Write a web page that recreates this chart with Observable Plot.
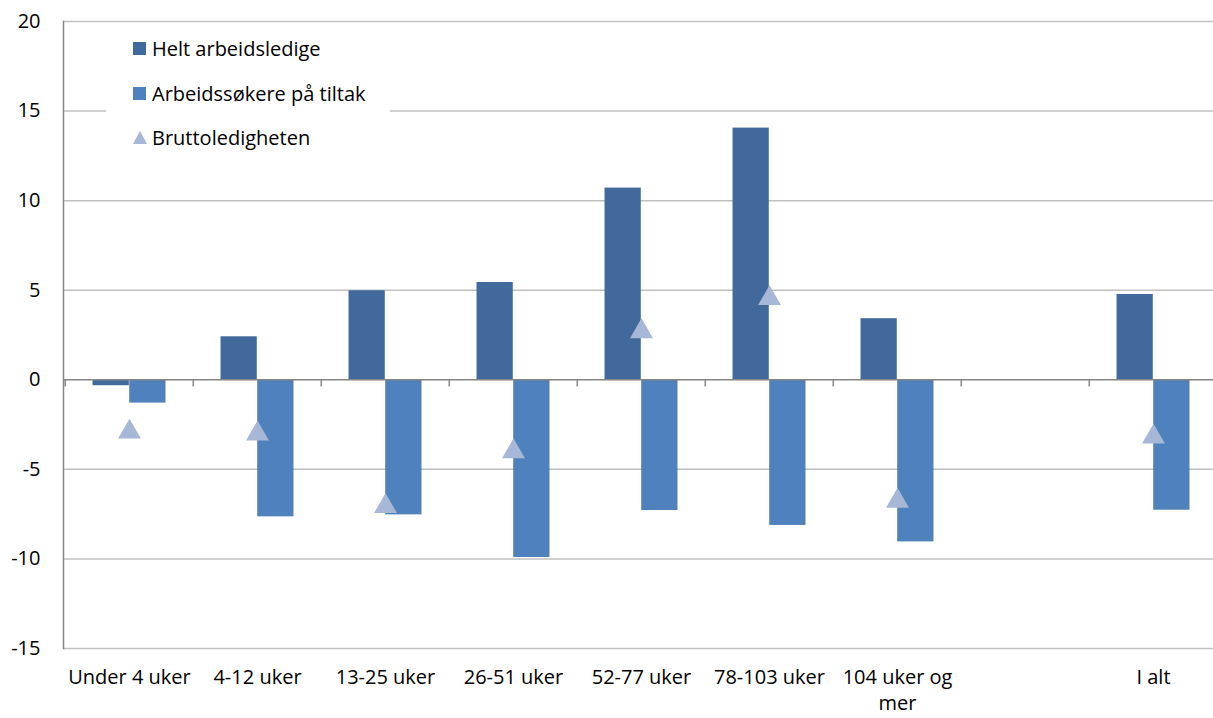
<!DOCTYPE html>
<html>
<head>
<meta charset="utf-8">
<script src="https://cdn.jsdelivr.net/npm/d3@7"></script>
<script src="https://cdn.jsdelivr.net/npm/@observablehq/plot@0.6"></script>
<style>
  body { margin: 0; background: #fff; }
  #wrap { position: relative; width: 1213px; height: 718px; font-family: "Open Sans", sans-serif; }
  #legend { position: absolute; left: 106px; top: 28px; width: 284px; height: 134px; background: #fff; }
  .item { position: absolute; left: 27px; height: 26px; display: flex; align-items: center; font-size: 20px; color: #000; white-space: nowrap; }
  .sw { width: 13px; height: 13px; margin-right: 6px; }
  .tri { width: 0; height: 0; border-left: 7px solid transparent; border-right: 7px solid transparent; border-bottom: 13px solid #a7b7d7; margin-right: 5px; }
</style>
</head>
<body>
<div id="wrap"></div>
<script>
const categories = ["Under 4 uker", "4-12 uker", "13-25 uker", "26-51 uker", "52-77 uker", "78-103 uker", "104 uker og mer", "", "I alt"];
const tickLabels = ["Under 4 uker", "4-12 uker", "13-25 uker", "26-51 uker", "52-77 uker", "78-103 uker", "104 uker og\nmer", "", "I alt"];
const heltArbeidsledige = [-0.33, 2.40, 4.97, 5.43, 10.70, 14.05, 3.41, null, 4.76];
const tiltak = [-1.30, -7.65, -7.54, -9.92, -7.30, -8.13, -9.05, null, -7.28];
const brutto = [-2.74, -2.85, -6.90, -3.84, 2.86, 4.71, -6.60, null, -3.02];
const seriesNames = ["Helt arbeidsledige", "Arbeidssøkere på tiltak", "Bruttoledigheten"];
const yTicks = [-15, -10, -5, 0, 5, 10, 15, 20];

const colors = ["#41699b", "#4f81bd", "#a7b7d7"];

const rows = categories.map((c, i) => ({cat: c, label: tickLabels[i], helt: heltArbeidsledige[i], tiltak: tiltak[i], brutto: brutto[i]}));
const valid = rows.filter(d => d.helt != null);

const x0 = 63, x1 = 1219;
const bw = (x1 - x0) / categories.length;
const barW = 36.7;
const half = bw / 2;

const chart = Plot.plot({
  width: 1213,
  height: 718,
  marginLeft: 63,
  marginRight: 0,
  marginTop: 21,
  marginBottom: 70,
  style: {fontFamily: "Open Sans, sans-serif", fontSize: "20px", color: "#000"},
  x: {domain: categories, range: [x0, x1], padding: 0, label: null},
  y: {domain: [-15, 20], label: null},
  marks: [
    Plot.gridY(yTicks.filter(t => t !== 0), {stroke: "#c0c0c0", strokeOpacity: 1, strokeWidth: 1.5}),
    Plot.barY(valid, {x: "cat", y1: 0, y2: "helt", fill: colors[0], insetLeft: half - barW, insetRight: half}),
    Plot.barY(valid, {x: "cat", y1: 0, y2: "tiltak", fill: colors[1], insetLeft: half, insetRight: half - barW}),
    Plot.ruleY([0], {stroke: "#868686", strokeWidth: 1.5}),
    Plot.ruleX(categories, {x: d => d, dx: -half, y1: 0, y2: -0.4, stroke: "#868686", strokeWidth: 1.5}),
    Plot.frame({anchor: "left", stroke: "#868686", strokeWidth: 1.5}),
    Plot.dot(valid, {x: "cat", y: "brutto", symbol: "triangle", r: 8.5, fill: colors[2], stroke: "none", dy: 3}),
    Plot.axisY({ticks: yTicks, tickSize: 0, tickPadding: 23, fontSize: 20, label: null, tickFormat: d => String(d)}),
    Plot.axisX({tickSize: 0, tickPadding: 17, fontSize: 20, lineHeight: 1.3, label: null, tickFormat: d => tickLabels[categories.indexOf(d)]})
  ]
});

const wrap = document.getElementById("wrap");
wrap.appendChild(chart);

const legend = document.createElement("div");
legend.id = "legend";
const tops = [7, 52, 96];
seriesNames.forEach((name, i) => {
  const it = document.createElement("div");
  it.className = "item";
  it.style.top = tops[i] + "px";
  const sw = document.createElement("span");
  if (i < 2) { sw.className = "sw"; sw.style.background = colors[i]; }
  else { sw.className = "tri"; }
  it.appendChild(sw);
  const t = document.createElement("span");
  t.textContent = name;
  it.appendChild(t);
  legend.appendChild(it);
});
wrap.appendChild(legend);
</script>
</body>
</html>
